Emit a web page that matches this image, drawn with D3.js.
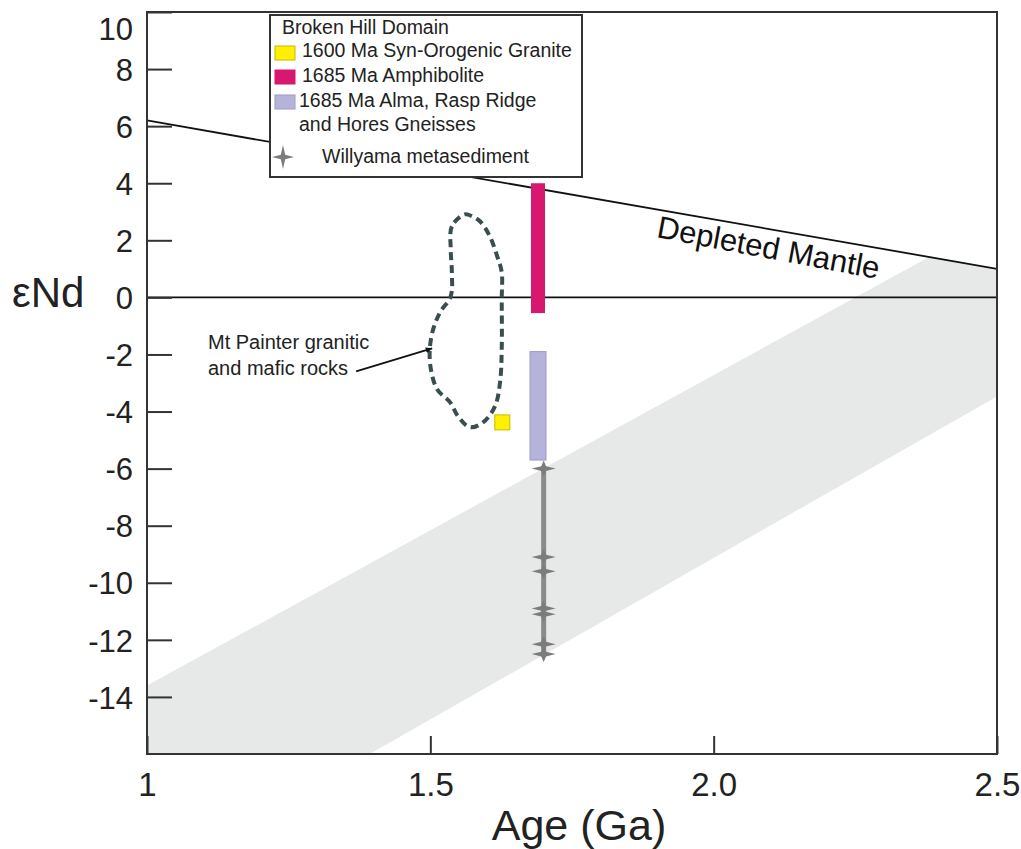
<!DOCTYPE html>
<html>
<head>
<meta charset="utf-8">
<script src="https://cdn.jsdelivr.net/npm/d3@7"></script>
<style>
  body { margin: 0; background: #fff; }
  svg { display: block; font-family: "Liberation Sans", Arial, Helvetica, sans-serif; }
</style>
</head>
<body>
<svg id="chart" width="1021" height="849"></svg>
<script>
// ---- Axis ticks ----
const xTicks = [1, 1.5, 2.0, 2.5];
const xTickLabels = ["1", "1.5", "2.0", "2.5"];
const yTicks = [-14, -12, -10, -8, -6, -4, -2, 0, 2, 4, 6, 8, 10];

// ---- Depleted mantle evolution line (age in Ga, εNd) ----
const mantleAge = [1.0, 2.5];
const mantleEps = [6.2, 1.0];

// ---- Grey crustal evolution band: upper and lower edges ----
const bandUpperAge = [1.0, 2.25];
const bandUpperEps = [-13.6, 0.0];
const bandLowerAge = [1.393, 2.5];
const bandLowerEps = [-16.0, -3.47];

// ---- Broken Hill Domain ----
const amphiboliteAge = 1.69;
const amphiboliteEps = [-0.55, 4.0];
const gneissAge = 1.69;
const gneissEps = [-5.7, -1.9];
const graniteAge = [1.627];
const graniteEps = [-4.38];
const willyamaAge = 1.70;
const willyamaEps = [-6.0, -9.1, -9.6, -10.9, -11.1, -12.15, -12.5];

// ---- Mt Painter granitic and mafic rocks field outline ----
const painterAge = [1.561, 1.538, 1.536, 1.538, 1.536, 1.517, 1.505, 1.499, 1.501, 1.512,
                    1.535, 1.549, 1.570, 1.593, 1.614, 1.623, 1.626, 1.626, 1.626, 1.618,
                    1.605, 1.588, 1.574];
const painterEps = [2.91, 2.49, 1.68, 0.88, 0.04, -0.53, -1.12, -1.82, -2.52, -3.22,
                    -3.68, -4.17, -4.55, -4.38, -3.82, -2.98, -1.82, -0.07, 0.88, 1.44,
                    2.14, 2.66, 2.84];

// annotation arrow (age, εNd) from label to field
const arrowAge = [1.369, 1.503];
const arrowEps = [-2.59, -1.79];

// ---- Legend entries ----
const legendTitle = "Broken Hill Domain";
const legendLabels = [
  ["1600 Ma Syn-Orogenic Granite"],
  ["1685 Ma Amphibolite"],
  ["1685 Ma Alma, Rasp Ridge", "and Hores Gneisses"],
  ["Willyama metasediment"]
];

// ---- Layout ----
const plot = { left: 147, top: 12, right: 997, bottom: 754 };
const ink = "#222";
const frameColor = "#333";
const colors = {
  band: "#e7e8e8",
  granite: "#fff000", graniteStroke: "#c9b800",
  amphibolite: "#d8176f",
  gneiss: "#b6b3da", gneissStroke: "#9c99c6",
  willyama: "#8a8a8a", star: "#7c7c7c",
  painter: "#3b4e4f"
};

const svg = d3.select("#chart");

const x = d3.scaleLinear().domain([1.0, 2.5]).range([plot.left, plot.right]);
const y = d3.scaleLinear().domain([-16, 10]).range([plot.bottom, plot.top]);

svg.append("defs").append("clipPath").attr("id", "plotClip")
  .append("rect")
  .attr("x", plot.left).attr("y", plot.top)
  .attr("width", plot.right - plot.left).attr("height", plot.bottom - plot.top);

const g = svg.append("g").attr("clip-path", "url(#plotClip)");

// line helpers in data space
const lineAt = (ages, eps) => a => eps[0] + (a - ages[0]) * (eps[1] - eps[0]) / (ages[1] - ages[0]);
const mantle = lineAt(mantleAge, mantleEps);
const upper = lineAt(bandUpperAge, bandUpperEps);
const lower = lineAt(bandLowerAge, bandLowerEps);

// where the band's upper edge meets the depleted mantle line
const su = (bandUpperEps[1] - bandUpperEps[0]) / (bandUpperAge[1] - bandUpperAge[0]);
const sm = (mantleEps[1] - mantleEps[0]) / (mantleAge[1] - mantleAge[0]);
const meetAge = (mantle(0) - upper(0)) / (su - sm);

const bandPts = [
  [1.0, -16],
  [1.0, upper(1.0)],
  [meetAge, upper(meetAge)],
  [2.5, mantle(2.5)],
  [2.5, lower(2.5)],
  [bandLowerAge[0], -16]
];
g.append("path")
  .attr("d", d3.line().x(d => x(d[0])).y(d => y(d[1]))(bandPts) + "Z")
  .attr("fill", colors.band);

// zero line
g.append("line")
  .attr("x1", x(1.0)).attr("x2", x(2.5))
  .attr("y1", y(0)).attr("y2", y(0))
  .attr("stroke", "#111").attr("stroke-width", 1.8);

// depleted mantle line
g.append("line")
  .attr("x1", x(mantleAge[0])).attr("y1", y(mantleEps[0]))
  .attr("x2", x(mantleAge[1])).attr("y2", y(mantleEps[1]))
  .attr("stroke", "#111").attr("stroke-width", 1.8);

// depleted mantle label along the line
const mAngle = Math.atan2(y(mantleEps[1]) - y(mantleEps[0]), x(mantleAge[1]) - x(mantleAge[0])) * 180 / Math.PI;
const labelAge = 2.103;
svg.append("text")
  .attr("transform", `translate(${x(labelAge)},${y(mantle(labelAge))}) rotate(${mAngle + 0.8})`)
  .attr("y", 29)
  .attr("text-anchor", "middle")
  .attr("font-size", 31)
  .attr("fill", "#111")
  .text("Depleted Mantle");

// Mt Painter field (dashed closed outline)
g.append("path")
  .datum(painterAge.map((a, i) => [a, painterEps[i]]))
  .attr("d", d3.line().x(d => x(d[0])).y(d => y(d[1])).curve(d3.curveCatmullRomClosed.alpha(0.5)))
  .attr("fill", "none")
  .attr("stroke", colors.painter)
  .attr("stroke-width", 4)
  .attr("stroke-dasharray", "8,5");

// amphibolite bar
g.append("rect")
  .attr("x", x(amphiboliteAge) - 7).attr("width", 14)
  .attr("y", y(amphiboliteEps[1]))
  .attr("height", y(amphiboliteEps[0]) - y(amphiboliteEps[1]))
  .attr("fill", colors.amphibolite);

// gneiss bar
g.append("rect")
  .attr("x", x(gneissAge) - 8).attr("width", 16)
  .attr("y", y(gneissEps[1]))
  .attr("height", y(gneissEps[0]) - y(gneissEps[1]))
  .attr("fill", colors.gneiss)
  .attr("stroke", colors.gneissStroke).attr("stroke-width", 1);

// syn-orogenic granite
g.selectAll(".granite")
  .data(graniteAge.map((a, i) => [a, graniteEps[i]]))
  .join("rect")
  .attr("x", d => x(d[0]) - 7.5).attr("y", d => y(d[1]) - 7.5)
  .attr("width", 15).attr("height", 15)
  .attr("fill", colors.granite)
  .attr("stroke", colors.graniteStroke).attr("stroke-width", 1);

// four-pointed star
function star(w, h, r) {
  return `M${-w},0 L${-r},${-r} L0,${-h} L${r},${-r} L${w},0 L${r},${r} L0,${h} L${-r},${r} Z`;
}

// Willyama metasediment range
g.append("line")
  .attr("x1", x(willyamaAge)).attr("x2", x(willyamaAge))
  .attr("y1", y(d3.max(willyamaEps))).attr("y2", y(d3.min(willyamaEps)))
  .attr("stroke", colors.willyama).attr("stroke-width", 5);

g.selectAll(".wstar")
  .data(willyamaEps)
  .join("path")
  .attr("transform", d => `translate(${x(willyamaAge)},${y(d)})`)
  .attr("d", star(12, 8, 2.4))
  .attr("fill", colors.star);

// annotation for Mt Painter field
svg.append("defs").append("marker")
  .attr("id", "arrowHead")
  .attr("viewBox", "0 0 10 10")
  .attr("refX", 9).attr("refY", 5)
  .attr("markerWidth", 7).attr("markerHeight", 7)
  .attr("markerUnits", "userSpaceOnUse")
  .attr("orient", "auto")
  .append("path").attr("d", "M0,1 L10,5 L0,9 Z").attr("fill", "#111");

svg.append("line")
  .attr("x1", x(arrowAge[0])).attr("y1", y(arrowEps[0]))
  .attr("x2", x(arrowAge[1])).attr("y2", y(arrowEps[1]))
  .attr("stroke", "#111").attr("stroke-width", 1.8)
  .attr("marker-end", "url(#arrowHead)");

const note = svg.append("text")
  .attr("font-size", 20).attr("fill", ink);
note.append("tspan").attr("x", 208).attr("y", 349).text("Mt Painter granitic");
note.append("tspan").attr("x", 208).attr("y", 375).text("and mafic rocks");

// ---- Legend ----
const lg = svg.append("g").attr("transform", "translate(270,15)");
lg.append("rect")
  .attr("width", 312).attr("height", 162)
  .attr("fill", "#fff")
  .attr("stroke", frameColor).attr("stroke-width", 2);
lg.append("text")
  .attr("x", 12).attr("y", 19)
  .attr("font-size", 19.5).attr("fill", ink)
  .text(legendTitle);

const swatchY = [31, 55, 80];
const swatchFill = [colors.granite, colors.amphibolite, colors.gneiss];
const swatchStroke = [colors.graniteStroke, colors.amphibolite, colors.gneissStroke];
const textY = [[42], [67], [92, 116]];
const textX = [32, 32, 29];
swatchY.forEach((sy, i) => {
  lg.append("rect")
    .attr("x", 5).attr("y", sy)
    .attr("width", 20).attr("height", 14)
    .attr("fill", swatchFill[i])
    .attr("stroke", swatchStroke[i]).attr("stroke-width", 1);
  legendLabels[i].forEach((t, j) => {
    lg.append("text")
      .attr("x", textX[i]).attr("y", textY[i][j])
      .attr("font-size", 19.5).attr("fill", ink)
      .text(t);
  });
});
lg.append("path")
  .attr("transform", "translate(13,142)")
  .attr("d", star(11, 12, 2.2))
  .attr("fill", colors.star);
lg.append("text")
  .attr("x", 52).attr("y", 148)
  .attr("font-size", 19.5).attr("fill", ink)
  .text(legendLabels[3][0]);

// ---- Frame ----
svg.append("rect")
  .attr("x", plot.left).attr("y", plot.top)
  .attr("width", plot.right - plot.left).attr("height", plot.bottom - plot.top)
  .attr("fill", "none")
  .attr("stroke", frameColor).attr("stroke-width", 2);

// ---- Axes ----
const yAxis = svg.append("g")
  .attr("transform", `translate(${plot.left},0)`)
  .call(d3.axisLeft(y).tickValues(yTicks).tickFormat(d => String(d)).tickSize(-25).tickPadding(14));
yAxis.select(".domain").remove();
yAxis.selectAll(".tick line").attr("stroke", frameColor).attr("stroke-width", 2);
yAxis.selectAll(".tick text")
  .attr("font-size", 31).attr("font-family", null).attr("fill", ink)
  .attr("dy", d => d === 10 ? "0.9em" : "0.36em");

const xAxis = svg.append("g")
  .attr("transform", `translate(0,${plot.bottom})`)
  .call(d3.axisBottom(x).tickValues(xTicks).tickFormat((d, i) => xTickLabels[i]).tickSize(-18).tickPadding(19));
xAxis.select(".domain").remove();
xAxis.selectAll(".tick line").attr("stroke", frameColor).attr("stroke-width", 2);
xAxis.selectAll(".tick text")
  .attr("font-size", 33).attr("font-family", null).attr("fill", ink);

// axis titles
svg.append("text")
  .attr("x", 579).attr("y", 840)
  .attr("text-anchor", "middle")
  .attr("font-size", 43).attr("fill", ink)
  .text("Age (Ga)");
svg.append("text")
  .attr("x", 12).attr("y", 307)
  .attr("font-size", 42).attr("fill", ink)
  .text("εNd");
</script>
</body>
</html>
